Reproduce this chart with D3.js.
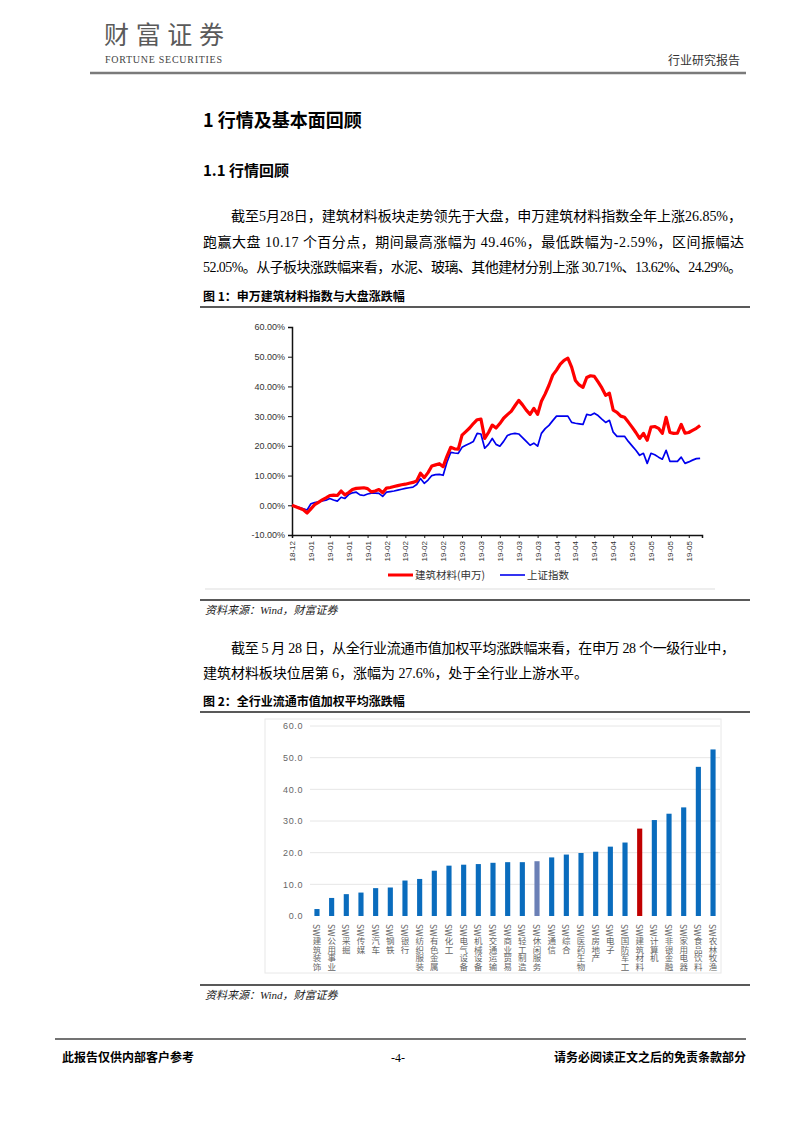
<!DOCTYPE html>
<html><head><meta charset="utf-8">
<script src="https://cdn.jsdelivr.net/npm/d3@7/dist/d3.min.js"></script>
<style>body{margin:0;background:#fff} svg{display:block}</style>
</head><body><div id="c"></div>
<script>
// ---------- DATA ----------
const lineTickLabels = ["18-12","19-01","19-01","19-01","19-01","19-02","19-02","19-02","19-02","19-03","19-03","19-03","19-03","19-03","19-04","19-04","19-04","19-04","19-05","19-05","19-05","19-05"];
const lineYTicks = [-10,0,10,20,30,40,50,60];
const seriesNames = ["建筑材料(申万)","上证指数"];
const buildingMaterials = [0,-0.5,-1.0,-1.5,-2.6,-1.2,0.2,1.0,1.8,2.5,3.3,3.4,3.3,4.8,3.5,4.3,5.3,5.7,5.8,5.9,5.6,4.5,4.8,5.3,4.2,5.8,6.0,6.3,6.6,6.9,7.1,7.4,7.7,8.2,10.8,9.3,11.0,13.2,13.6,14.0,13.0,16.5,19.5,19.0,18.9,23.6,24.8,26.0,27.5,28.8,29.0,22.5,24.5,27.0,26.0,27.5,29.3,30.5,31.6,33.5,35.3,33.8,32.0,30.6,32.6,30.6,35.0,37.5,40.4,43.8,45.5,47.5,48.8,49.5,46.5,42.0,40.5,39.7,43.0,43.6,43.4,41.5,39.5,37.0,37.7,32.0,31.3,30.0,29.6,28.0,26.3,24.5,22.5,24.2,21.9,26.3,26.5,25.9,24.2,29.6,24.5,24.2,24.3,27.2,24.3,24.5,25.2,25.9,26.85];
const shanghaiIndex = [0,-0.4,-0.8,-1.2,-1.6,0.5,0.9,1.2,1.5,1.7,2.3,1.8,1.4,2.7,2.3,3.6,4.2,4.4,3.5,3.3,3.8,4.1,4.1,4.0,3.0,4.4,4.6,4.8,5.1,5.4,5.7,5.9,6.1,7.0,9.0,7.4,8.5,10.0,10.3,10.4,10.1,14.5,17.8,17.6,17.5,19.5,20.2,20.8,21.5,24.2,24.0,19.2,20.5,22.5,20.5,19.9,21.5,23.5,24.0,24.2,24.0,22.8,21.5,20.2,20.9,19.9,24.2,25.8,26.9,28.5,30.0,30.0,30.0,30.0,27.9,27.6,27.4,27.2,30.6,30.3,31.0,30.2,29.0,27.9,28.6,24.6,23.2,23.2,23.2,21.5,20.0,18.5,16.8,17.5,14.1,17.5,17.0,16.2,15.5,18.5,14.8,14.8,14.8,16.2,14.1,14.6,15.2,15.7,15.8];

const barCategories = ["SW建筑装饰","SW公用事业","SW采掘","SW传媒","SW汽车","SW钢铁","SW银行","SW纺织服装","SW有色金属","SW化工","SW电气设备","SW机械设备","SW交通运输","SW商业贸易","SW轻工制造","SW休闲服务","SW通信","SW综合","SW医药生物","SW房地产","SW电子","SW国防军工","SW建筑材料","SW计算机","SW非银金融","SW家用电器","SW食品饮料","SW农林牧渔"];
const barValues = [2.2,5.7,6.9,7.4,8.8,9.0,11.2,11.7,14.3,15.9,16.2,16.4,16.8,17.0,17.0,17.3,18.5,19.4,19.9,20.3,21.9,23.2,27.6,30.3,32.3,34.3,47.1,52.6];
const barYTicks = [0,10,20,30,40,50,60];

// ---------- PAGE ----------
const W = 802, H = 1133;
const svg = d3.select("#c").append("svg").attr("width", W).attr("height", H);
svg.append("rect").attr("width", W).attr("height", H).attr("fill", "#fff");
const SERIF = "'Liberation Serif','Noto Sans CJK SC',serif";
const CJK = "'Noto Sans CJK SC','Liberation Serif',sans-serif";
const SANS = "'Liberation Sans',Arial,'Noto Sans CJK SC',sans-serif";

function txt(x, y, s, o = {}) {
  const t = svg.append("text").attr("x", x).attr("y", y).text(s)
    .attr("font-family", o.family || SERIF).attr("font-size", o.size || 14)
    .attr("fill", o.fill || "#000");
  if (o.weight) t.attr("font-weight", o.weight);
  if (o.style) t.attr("font-style", o.style);
  if (o.anchor) t.attr("text-anchor", o.anchor);
  if (o.len) t.attr("textLength", o.len).attr("lengthAdjust", "spacing");
  return t;
}
function hline(x1, x2, y, c, w) {
  svg.append("line").attr("x1", x1).attr("x2", x2).attr("y1", y).attr("y2", y)
    .attr("stroke", c).attr("stroke-width", w);
}

// header
txt(104, 44, "财富证券", {family: CJK, size: 25, fill: "#5a5a5a", weight: 400, len: 120});
txt(105, 63, "FORTUNE SECURITIES", {size: 10, fill: "#444", len: 117});
txt(668, 65, "行业研究报告", {family: CJK, size: 12, fill: "#333"});
hline(90, 746, 73, "#7a7a7a", 2.5);

// headings and paragraphs
txt(203, 127, "1 行情及基本面回顾", {family: CJK, size: 18, weight: 700});
txt(203, 176, "1.1 行情回顾", {family: CJK, size: 15, weight: 700});
txt(231, 221, "截至5月28日，建筑材料板块走势领先于大盘，申万建筑材料指数全年上涨26.85%，", {size: 14, len: 511});
txt(203, 247, "跑赢大盘 10.17 个百分点，期间最高涨幅为 49.46%，最低跌幅为-2.59%，区间振幅达", {size: 14, len: 541});
txt(203, 272, "52.05%。从子板块涨跌幅来看，水泥、玻璃、其他建材分别上涨 30.71%、13.62%、24.29%。", {size: 14, len: 539});
txt(203, 301, "图 1：申万建筑材料指数与大盘涨跌幅", {family: CJK, size: 12, weight: 700});
hline(200, 750, 307, "#222", 1.5);

txt(231, 653, "截至 5 月 28 日，从全行业流通市值加权平均涨跌幅来看，在申万 28 个一级行业中，", {size: 14, len: 504});
txt(203, 678, "建筑材料板块位居第 6，涨幅为 27.6%，处于全行业上游水平。", {size: 14, len: 385});
txt(203, 706, "图 2：全行业流通市值加权平均涨跌幅", {family: CJK, size: 12, weight: 700});
hline(200, 750, 712, "#222", 1.5);

// ---------- CHART 1 ----------
const x1 = d3.scaleLinear().domain([0, 108.5]).range([292, 702]);
const y1 = d3.scaleLinear().domain([-10, 60]).range([535, 327]);
const g1 = svg.append("g");

const yAx1 = g1.append("g").attr("transform", "translate(292,0)")
  .call(d3.axisLeft(y1).tickValues(lineYTicks).tickSize(4).tickFormat(d => d.toFixed(2) + "%"));
yAx1.select(".domain").attr("stroke", "#111").attr("stroke-width", 1.5);
yAx1.selectAll(".tick line").attr("stroke", "#111");
yAx1.selectAll("text").attr("font-family", SANS).attr("font-size", 9).attr("fill", "#333").attr("x", -7);

const xAx1 = g1.append("g").attr("transform", "translate(0,535)")
  .call(d3.axisBottom(x1).tickValues(lineTickLabels.map((d, i) => i * 5)).tickSize(3)
    .tickFormat((d, i) => lineTickLabels[i]));
xAx1.select(".domain").attr("stroke", "#111").attr("stroke-width", 1.5);
xAx1.selectAll(".tick line").attr("stroke", "#111");
xAx1.selectAll("text").attr("font-family", SANS).attr("font-size", 8).attr("fill", "#333")
  .attr("transform", "rotate(-90)").attr("text-anchor", "end").attr("x", -6).attr("y", 0).attr("dy", "0.32em");

const line = d3.line().x((d, i) => x1(i)).y(d => y1(d));
g1.append("path").datum(shanghaiIndex).attr("d", line).attr("fill", "none")
  .attr("stroke", "#0000ee").attr("stroke-width", 1.7).attr("stroke-linejoin", "round");
g1.append("path").datum(buildingMaterials).attr("d", line).attr("fill", "none")
  .attr("stroke", "#ff0000").attr("stroke-width", 3.2).attr("stroke-linejoin", "round");

// legend
const legendItems = [{name: seriesNames[0], color: "#ff0000", w: 3, x: 388},
                     {name: seriesNames[1], color: "#0000ee", w: 1.6, x: 500}];
legendItems.forEach(d => {
  hline(d.x, d.x + 25, 575, d.color, d.w);
  txt(d.x + 27, 579, d.name, {family: CJK, size: 10.5, fill: "#333"});
});
hline(205, 715, 589, "#ddd", 1);
hline(200, 750, 600, "#222", 1.5);
txt(205, 614, "资料来源：Wind，财富证券", {size: 11, style: "italic", fill: "#222"});

// ---------- CHART 2 ----------
svg.append("rect").attr("x", 265).attr("y", 719).attr("width", 456).attr("height", 254)
  .attr("fill", "none").attr("stroke", "#e8e8e8").attr("stroke-width", 1);
const x2 = d3.scaleBand().domain(barCategories).range([310, 720]).paddingInner(0.65).paddingOuter(0.3);
const y2 = d3.scaleLinear().domain([0, 60]).range([916, 726]);
const g2 = svg.append("g");
const yAx2 = g2.append("g").attr("transform", "translate(310,0)")
  .call(d3.axisLeft(y2).tickValues(barYTicks).tickSize(0).tickFormat(d3.format(".1f")));
yAx2.select(".domain").remove();
yAx2.selectAll("text").attr("font-family", SANS).attr("font-size", 9).attr("fill", "#666").attr("x", -7)
  .attr("letter-spacing", 0.6);
g2.append("g").selectAll("line").data(barYTicks.filter(d => d > 0)).join("line")
  .attr("x1", 310).attr("x2", 720).attr("y1", d => y2(d)).attr("y2", d => y2(d))
  .attr("stroke", "#e6e6e6").attr("stroke-width", 1);
const barColor = c => c === "SW建筑材料" ? "#c00000" : (c === "SW休闲服务" ? "#6b80b6" : "#0a6cbd");
g2.append("g").selectAll("rect").data(barCategories).join("rect")
  .attr("x", d => x2(d)).attr("width", x2.bandwidth())
  .attr("y", (d, i) => y2(barValues[i])).attr("height", (d, i) => y2(0) - y2(barValues[i]))
  .attr("fill", barColor);
g2.append("g").selectAll("text").data(barCategories).join("text")
  .attr("x", d => x2(d) + x2.bandwidth() / 2).attr("y", 924)
  .attr("style", "writing-mode: vertical-rl")
  .attr("font-family", CJK).attr("font-size", 8.5).attr("fill", "#666")
  .text(d => d);

hline(200, 750, 985, "#222", 1.5);
txt(205, 999, "资料来源：Wind，财富证券", {size: 11, style: "italic", fill: "#222"});

// footer
hline(55, 746, 1039, "#444", 1.5);
txt(62, 1062, "此报告仅供内部客户参考", {family: CJK, size: 12, weight: 700});
txt(398, 1062, "-4-", {size: 12, anchor: "middle"});
txt(746, 1062, "请务必阅读正文之后的免责条款部分", {family: CJK, size: 12, weight: 700, anchor: "end"});
</script>
</body></html>
